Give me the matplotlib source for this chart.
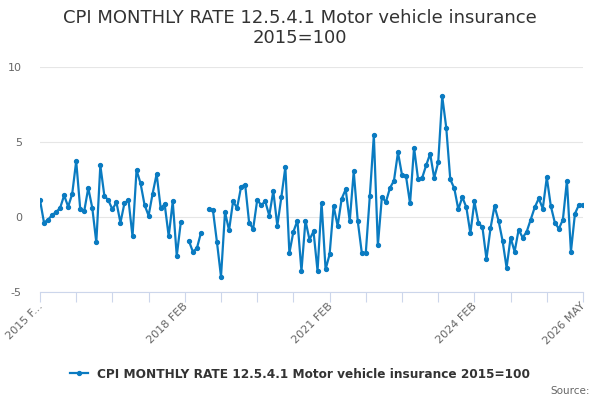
import numpy as np
import matplotlib
matplotlib.use('Agg')
import matplotlib.pyplot as plt

# monthly rate, 2015 FEB .. 2026 MAY (nan = missing month)
values = [
    1.13, -0.38, -0.18, 0.13, 0.33, 0.6, 1.44, 0.69, 1.53, 3.73,
    0.53, 0.4, 1.93, 0.6, -1.69, 3.44, 1.42, 1.11, 0.51, 0.98,
    -0.38, 0.93, 1.13, -1.29, 3.13, 2.24, 0.8, 0.09, 1.56, 2.87,
    0.6, 0.84, -1.29, 1.04, -2.6, -0.36, np.nan, -1.58, -2.31, -2.09,
    -1.07, np.nan, 0.53, 0.44, -1.69, -3.98, 0.33, -0.89, 1.04, 0.6,
    2.02, 2.16, -0.4, -0.78, 1.13, 0.8, 1.04, 0.09, 1.73, -0.58,
    1.31, 3.33, -2.4, -0.98, -0.24, -3.6, -0.24, -1.51, -0.96, -3.6,
    0.96, -3.49, -2.49, 0.73, -0.6, 1.22, 1.84, -0.29, 3.04, -0.27,
    -2.38, -2.38, 1.4, 5.44, -1.89, 1.33, 1.0, 1.93, 2.42, 4.31,
    2.8, 2.71, 0.91, 4.62, 2.51, 2.6, 3.44, 4.22, 2.6, 3.64,
    8.04, 5.96, 2.51, 1.91, 0.51, 1.33, 0.64, -1.09, 1.04, -0.38,
    -0.69, -2.8, -0.76, 0.73, -0.24, -1.58, -3.38, -1.38, -2.31, -0.84,
    -1.38, -0.98, -0.18, 0.64, 1.24, 0.56, 2.64, 0.73, -0.38, -0.78,
    -0.18, 2.42, -2.31, 0.22, 0.82, 0.82,
]
label_pos = [0, 36, 72, 108, 135]
label_text = ['2015 F...', '2018 FEB', '2021 FEB', '2024 FEB', '2026 MAY']
y_ticks = [-5, 0, 5, 10]

series_name = 'CPI MONTHLY RATE 12.5.4.1 Motor vehicle insurance 2015=100'
blue = '#0a7bc1'

fig = plt.figure(figsize=(6, 4), dpi=100)
ax = fig.add_axes([40 / 600, 108 / 400, 543 / 600, 225 / 400])

x = np.arange(len(values))
ax.plot(x, values, color=blue, lw=1.6, marker='o', ms=2.8, zorder=3,
        label=series_name)

ax.set_xlim(0, len(values) - 1)
ax.set_ylim(-5, 10)
ax.set_yticks(y_ticks)
ax.set_yticklabels([str(v) for v in y_ticks], fontsize=8, color='#666666')
ax.tick_params(axis='y', length=0, pad=13)
ax.grid(axis='y', color='#e6e6e6', lw=0.8)
ax.set_axisbelow(True)

ax.set_xticks(np.arange(0, len(values), 9))
ax.set_xticklabels([])
ax.tick_params(axis='x', length=7, color='#ccd6eb', width=0.8)
# rotated labels, right end sitting just under the tick
for pos, txt in zip(label_pos, label_text):
    ax.text(pos - 0.6, -5.6, txt, rotation=45, rotation_mode='anchor',
            ha='right', va='top', fontsize=8, color='#666666', clip_on=False)

for side in ['top', 'right', 'left']:
    ax.spines[side].set_visible(False)
ax.spines['bottom'].set_color('#ccd6eb')
ax.spines['bottom'].set_linewidth(0.8)

fig.text(0.5, 0.978, 'CPI MONTHLY RATE 12.5.4.1 Motor vehicle insurance\n2015=100',
         ha='center', va='top', fontsize=13, color='#333333', linespacing=1.15)

fig.legend(loc='center', bbox_to_anchor=(0.5, 0.065), frameon=False,
           prop={'size': 8.7, 'weight': 'bold'}, handlelength=1.5,
           labelcolor='#333333')

fig.text(0.983, 0.01, 'Source:', ha='right', va='bottom', fontsize=7.5,
         color='#666666')

plt.savefig('out.png', dpi=100)
